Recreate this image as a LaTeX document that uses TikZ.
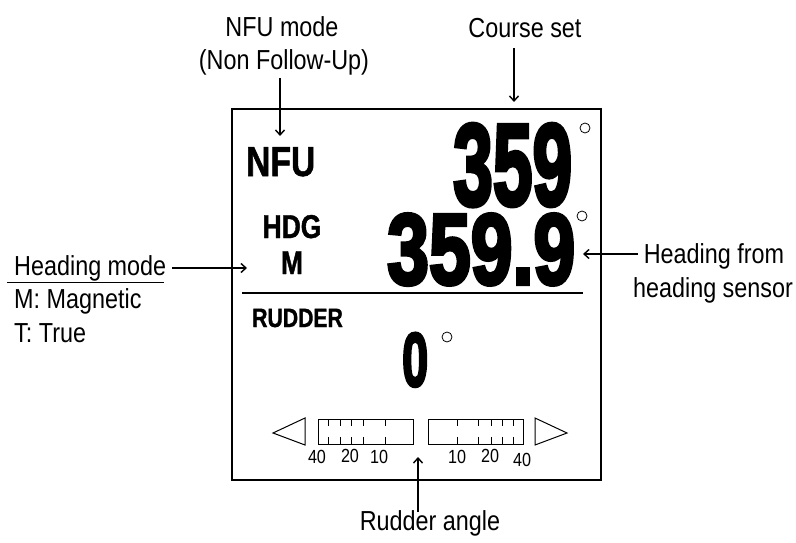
\documentclass[tikz,border=0pt]{standalone}
\usepackage{fontspec}
\setmainfont{Liberation Sans}[FakeStretch=0.85]
\newfontfamily\bnar{Liberation Sans}[FakeStretch=0.8,BoldFeatures={FakeBold=1.2}]
\newfontfamily\bignum{Liberation Sans}[BoldFeatures={FakeBold=4}]
\usetikzlibrary{arrows.meta}
\newcommand{\bigdigits}[3]{\raisebox{0pt}[#2][0pt]{\resizebox{#1}{#2}{\bignum\bfseries #3}}}
\begin{document}
\begin{tikzpicture}[x=1pt,y=-1pt,
  lab/.style={inner sep=0pt,font=\fontsize{27.5}{34}\selectfont},
  bold/.style={inner sep=0pt},
  num/.style={inner sep=0pt,font=\fontsize{19}{20}\selectfont},
  arr/.style={line width=1.6pt,-{Straight Barb[length=5pt,width=9pt,line width=1.4pt]}},
  frame/.style={line width=1.8pt},
  thin/.style={line width=1pt},
  deg/.style={line width=0.8pt}]
\useasboundingbox (0,0) rectangle (796,543);
% display frame
\draw[frame] (232,109) rectangle (601,480);
\draw[frame] (242,293) -- (583,293);
% inside texts
\node[bold,anchor=base west] (nfu) at (246,176) {\fontsize{42}{42}\bnar\bfseries NFU};
\node[bold,anchor=base] (hdg) at (292,238) {\fontsize{33}{33}\bnar\bfseries HDG};
\node[bold,anchor=base] (m) at (292,274) {\fontsize{33}{33}\bnar\bfseries M};
\node[bold,anchor=base west] (rud) at (252,327) {\fontsize{26.5}{27}\bnar\bfseries RUDDER};
\node[bold,anchor=base west] (cs) at (453,205) {\bigdigits{119pt}{81pt}{359}};
\node[bold,anchor=base west] (hd) at (387,284) {\bigdigits{188pt}{70pt}{359.9}};
\node[bold,anchor=base west] (ra) at (402,386) {\bigdigits{26pt}{53pt}{0}};
\draw[deg] (585,128) circle (5);
\draw[deg] (582,216) circle (5);
\draw[deg] (447,337) circle (5);
% rudder bar
\draw[thin] (273,433) -- (305,418) -- (305,445) -- cycle;
\draw[thin] (567,433) -- (535,418) -- (535,445) -- cycle;
\draw[thin] (318,419) rectangle (413,444);
\draw[thin] (428,419) rectangle (523,444);
\foreach \x in {328,340,351,363,385}{\draw[thin] (\x,419) -- (\x,426); \draw[thin] (\x,437) -- (\x,444);}
\foreach \x in {457,478,491,502,513}{\draw[thin] (\x,419) -- (\x,426); \draw[thin] (\x,437) -- (\x,444);}
\node[num,anchor=base] (l40) at (317,463) {40};
\node[num,anchor=base] (l20) at (350,462) {20};
\node[num,anchor=base] (l10) at (379,463) {10};
\node[num,anchor=base] (r10) at (457,463) {10};
\node[num,anchor=base] (r20) at (490,462) {20};
\node[num,anchor=base] (r40) at (522,466) {40};
% callout labels
\node[lab,anchor=base] (nfum) at (282,37) {NFU mode};
\node[lab,anchor=base] (nfun) at (284,70) {(Non Follow-Up)};
\node[lab,anchor=base] (cset) at (525,38) {Course set};
\node[lab,anchor=base west] (hmode) at (14,275) {Heading mode};
\node[lab,anchor=base west] (hmag) at (14,308) {M: Magnetic};
\node[lab,anchor=base west] (htrue) at (14,342) {T: True};
\node[lab,anchor=base] (hfrom) at (714,263) {Heading from};
\node[lab,anchor=base] (hsens) at (713,297) {heading sensor};
\node[lab,anchor=base] (rang) at (430,530) {Rudder angle};
\draw[thin] (7,282) -- (164,282);
% arrows
\coordinate (a1s) at (280,78);  \coordinate (a1e) at (280,136);
\coordinate (a2s) at (514,48);  \coordinate (a2e) at (514,102);
\coordinate (a3s) at (172,268); \coordinate (a3e) at (247,268);
\coordinate (a4s) at (638,254); \coordinate (a4e) at (583,254);
\coordinate (a5s) at (418,512); \coordinate (a5e) at (418,457);
\draw[arr] (a1s) -- (a1e);
\draw[arr] (a2s) -- (a2e);
\draw[arr] (a3s) -- (a3e);
\draw[arr] (a4s) -- (a4e);
\draw[arr] (a5s) -- (a5e);
\end{tikzpicture}
\end{document}
